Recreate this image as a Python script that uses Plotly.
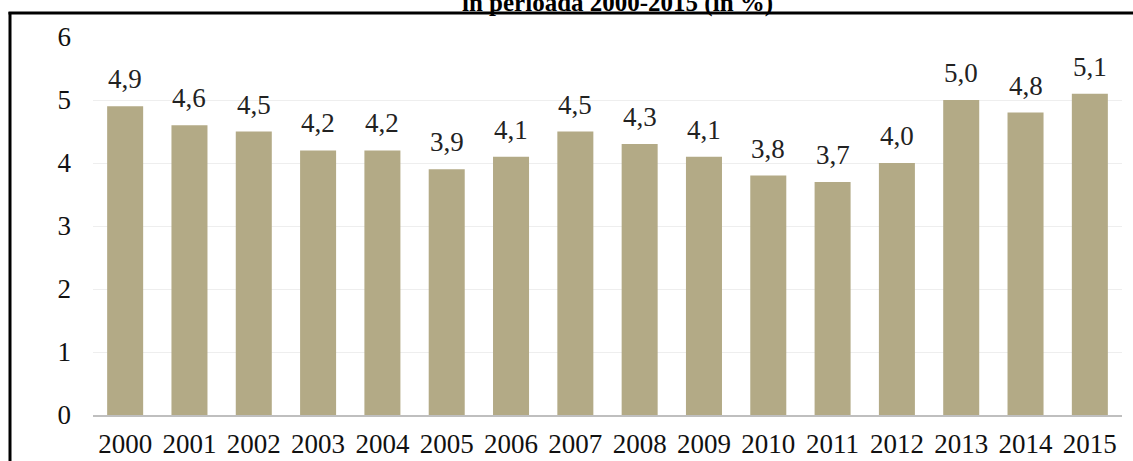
import plotly.graph_objects as go

years = ["2000", "2001", "2002", "2003", "2004", "2005", "2006", "2007",
         "2008", "2009", "2010", "2011", "2012", "2013", "2014", "2015"]
values = [4.9, 4.6, 4.5, 4.2, 4.2, 3.9, 4.1, 4.5, 4.3, 4.1, 3.8, 3.7, 4.0, 5.0, 4.8, 5.1]
title_text = "în perioada 2000-2015 (în %)"

FONT = "Liberation Serif, Times New Roman, serif"
FS = 27

fig = go.Figure(go.Bar(
    x=years, y=values,
    marker=dict(color="#B3AA86", line=dict(width=0)),
    width=0.56,
))

L, R, T, B = 93, 11, 37, 46
W, H = 1133, 461
pw = W - L - R
ph = H - T - B

def px_x(p):
    return (p - L) / pw

def px_y(p):
    return (H - B - p) / ph

# category index positions on the category axis
annotations = [dict(
    x=i, y=v, xref="x", yref="y", text=f"{v:.1f}".replace(".", ","),
    showarrow=False, xanchor="center", yanchor="bottom", yshift=10,
    font=dict(family=FONT, size=FS, color="#222222"),
) for i, v in enumerate(values)]

annotations.append(dict(
    text="<b>" + title_text + "</b>", xref="paper", yref="paper",
    x=px_x(617), y=px_y(3), xanchor="center", yanchor="middle", showarrow=False,
    font=dict(family=FONT, size=25, color="#000000"),
))

fig.update_layout(
    width=W, height=H,
    margin=dict(l=L, r=R, t=T, b=B),
    paper_bgcolor="white", plot_bgcolor="white",
    showlegend=False,
    font=dict(family=FONT, size=FS, color="#222222"),
    xaxis=dict(type="category", range=[-0.5, len(years) - 0.5], showgrid=False,
               showline=True, linecolor="#BFBFBF", linewidth=2, automargin=False,
               ticks="", ticklabelstandoff=4,
               tickfont=dict(family=FONT, size=FS, color="#111111")),
    yaxis=dict(range=[0, 6], dtick=1, showgrid=True, gridcolor="#EEEEEE", gridwidth=1,
               zeroline=False, showline=False, ticks="", ticklabelstandoff=21,
               automargin=False,
               tickfont=dict(family=FONT, size=FS, color="#111111")),
    annotations=annotations,
    shapes=[
        dict(type="line", xref="paper", yref="paper", x0=px_x(10), x1=px_x(10),
             y0=px_y(470), y1=px_y(12), line=dict(color="black", width=3)),
        dict(type="line", xref="paper", yref="paper", x0=px_x(8.5), x1=px_x(1140),
             y0=px_y(13), y1=px_y(13), line=dict(color="black", width=3)),
    ],
)

fig.write_html("out.html")
